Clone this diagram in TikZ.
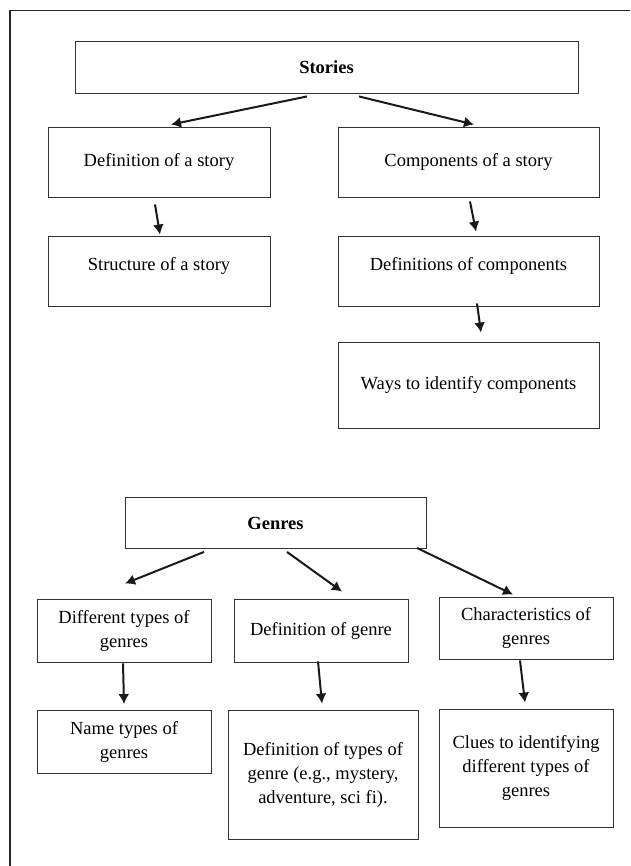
\documentclass[tikz,border=0pt]{standalone}
\usepackage{fontspec}
\setmainfont{Liberation Serif}
\usetikzlibrary{arrows.meta}
\begin{document}
\begin{tikzpicture}[x=1pt, y=-1pt,
box/.style={draw=black!80, line width=0.9pt, inner sep=0pt, align=center,
  font=\fontsize{18.5}{24}\selectfont},
arr/.style={-{Latex[length=10pt,width=11pt]}, line width=2pt, draw=black!90}]
\useasboundingbox (0,0) rectangle (630,866);
\draw[black!85, line width=1.2pt] (630,10.5) -- (10,10.5) -- (10,866);
\node[box, minimum width=503pt, minimum height=52pt] (stories) at (326.5,67) {\textbf{Stories}};
\node[box, minimum width=222pt, minimum height=70pt] (defstory) at (159,162) {Definition of a story};
\node[box, minimum width=261pt, minimum height=70pt] (compstory) at (468.5,162) {Components of a story};
\node[box, minimum width=222pt, minimum height=70pt, text depth=14pt] (structure) at (159,271) {Structure of a story};
\node[box, minimum width=261pt, minimum height=70pt, text depth=14pt] (defcomp) at (468.5,271) {Definitions of components};
\node[box, minimum width=261pt, minimum height=86pt] (ways) at (468.5,385) {Ways to identify components};
\node[box, minimum width=301pt, minimum height=51pt] (genres) at (275.5,523) {\textbf{Genres}};
\node[box, minimum width=174pt, minimum height=63pt] (difftypes) at (124,630.5) {Different types of\\genres};
\node[box, minimum width=174pt, minimum height=63pt] (defgenre) at (321,630.5) {Definition of genre};
\node[box, minimum width=174pt, minimum height=62pt] (charact) at (526,628) {Characteristics of\\genres};
\node[box, minimum width=174pt, minimum height=63pt] (nametypes) at (124,742) {Name types of\\genres};
\node[box, minimum width=190pt, minimum height=129pt] (deftypes) at (323,774.5) {Definition of types of\\genre (e.g., mystery,\\adventure, sci fi).};
\node[box, minimum width=174pt, minimum height=118pt] (clues) at (526,768) {Clues to identifying\\different types of\\genres};
\draw[arr] ([xshift=-19.5pt,yshift=-3pt]stories.south) -- ([xshift=12pt,yshift=2pt]defstory.north);
\draw[arr] ([xshift=32.5pt,yshift=-3pt]stories.south) -- ([xshift=5.5pt,yshift=2pt]compstory.north);
\draw[arr] ([xshift=-4pt,yshift=-7pt]defstory.south) -- ([xshift=1pt,yshift=1pt]structure.north);
\draw[arr] ([xshift=1.5pt,yshift=-4pt]compstory.south) -- ([xshift=7.5pt,yshift=4pt]defcomp.north);
\draw[arr] ([xshift=8.5pt,yshift=3pt]defcomp.south) -- ([xshift=12.5pt,yshift=9pt]ways.north);
\draw[arr] ([xshift=-71.5pt,yshift=-3pt]genres.south) -- ([xshift=1pt,yshift=15pt]difftypes.north);
\draw[arr] ([xshift=11.5pt,yshift=-3pt]genres.south) -- ([xshift=21pt,yshift=7pt]defgenre.north);
\draw[arr] ([xshift=141.5pt,yshift=1pt]genres.south) -- ([xshift=-13pt,yshift=2pt]charact.north);
\draw[arr] ([xshift=-1pt,yshift=-1pt]difftypes.south) -- ([yshift=6pt]nametypes.north);
\draw[arr] ([xshift=-3pt,yshift=1pt]defgenre.south) -- ([xshift=-1pt,yshift=6pt]deftypes.north);
\draw[arr] ([xshift=-6pt,yshift=-1pt]charact.south) -- ([xshift=-1pt,yshift=6pt]clues.north);
\end{tikzpicture}
\end{document}
